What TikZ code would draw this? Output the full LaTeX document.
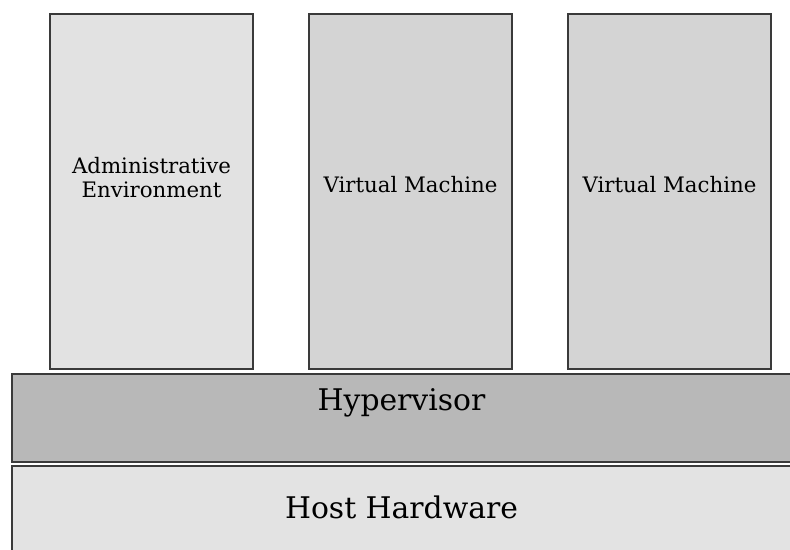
\documentclass[tikz,border=0pt]{standalone}
\usepackage{fontspec}
\setmainfont{DejaVu Serif}
\definecolor{admfill}{HTML}{E2E2E2}
\definecolor{vmfill}{HTML}{D4D4D4}
\definecolor{hypfill}{HTML}{B8B8B8}
\definecolor{hostfill}{HTML}{E3E3E3}
\definecolor{edge}{HTML}{3A3A3A}
\tikzset{
	column/.style = {draw = edge, line width = 1.2pt, minimum width = 203pt, minimum height = 355pt, inner sep = 0pt, align = center, font = \fontsize{21.3}{24}\selectfont},
	layer/.style = {draw = edge, line width = 1.2pt, minimum width = 779pt, inner sep = 0pt, font = \fontsize{29.8}{34}\selectfont}
}
\begin{document}
\begin{tikzpicture}[x = 1pt, y = -1pt]
		\useasboundingbox (0, 0) rectangle (790, 549);
		\begin{scope}
		\clip (0, 0) rectangle (790, 549);
		% guests on top
		\node[column, fill = admfill, label = {[column, draw = none, minimum size = 0pt, yshift = 14pt]center:Administrative\\Environment}] (admin) at (151.5, 191.5) {};
		\foreach \x/\name in {410.5/vma, 669.5/vmb}{
			\node[column, fill = vmfill, label = {[column, draw = none, minimum size = 0pt, yshift = 7pt]center:Virtual Machine}] (\name) at (\x, 191.5) {};}
		% layers
		\node[layer, fill = hypfill, minimum height = 88pt, label = {[layer, draw = none, minimum size = 0pt, yshift = 15pt]center:Hypervisor}] (hyp) at (401.5, 418) {};
		\node[layer, fill = hostfill, minimum height = 86pt, label = {[layer, draw = none, minimum size = 0pt, yshift = 2pt]center:Host Hardware}] (host) at (401.5, 509) {};
		\end{scope}
		\end{tikzpicture}
\end{document}
